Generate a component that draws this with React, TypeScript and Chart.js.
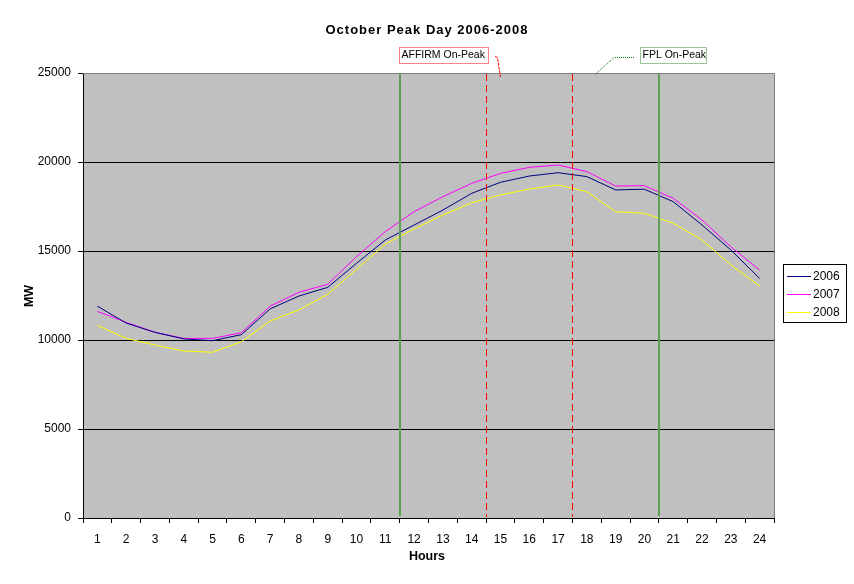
import { useEffect, useRef } from 'react';
import { Chart, registerables } from 'chart.js';

Chart.register(...registerables);

const hours = ['1','2','3','4','5','6','7','8','9','10','11','12','13','14','15','16','17','18','19','20','21','22','23','24'];
const mw2006 = [11900,10950,10430,10060,9960,10300,11750,12470,12960,14310,15620,16460,17300,18240,18860,19210,19400,19180,18430,18470,17770,16460,15060,13460];
const mw2007 = [11610,10990,10430,10090,10090,10410,11900,12680,13130,14680,16090,17210,18050,18800,19360,19700,19830,19460,18650,18670,17960,16740,15240,13930];
const mw2008 = [10820,10090,9720,9380,9310,9900,11070,11690,12570,13970,15390,16240,17020,17710,18150,18480,18710,18330,17210,17120,16560,15620,14210,13030];
const seriesNames = ['2006', '2007', '2008'];
const seriesColors = ['#000080', '#FF00FF', '#FFFF00'];
// on-peak windows: boundaries after these hour numbers
const fplBounds = [11, 20];
const affirmBounds = [14, 17];
const yTicks = [0, 5000, 10000, 15000, 20000, 25000];

const FONT = '"Liberation Sans", Arial, sans-serif';

function boundaryX(chart: any, afterHour: number) {
  const xs = chart.scales.x;
  return (xs.getPixelForValue(afterHour - 1) + xs.getPixelForValue(afterHour)) / 2;
}

const decor = {
  id: 'decor',
  beforeDraw(chart: any) {
    const { ctx, chartArea: a } = chart;
    ctx.save();
    ctx.fillStyle = '#FFFFFF';
    ctx.fillRect(0, 0, chart.width, chart.height);
    ctx.fillStyle = '#C0C0C0';
    ctx.fillRect(a.left, a.top, a.right - a.left, a.bottom - a.top);
    ctx.restore();
  },
  afterDatasetsDraw(chart: any) {
    const { ctx, chartArea: a } = chart;
    ctx.save();
    ctx.strokeStyle = '#5E9E55';
    ctx.lineWidth = 2;
    fplBounds.forEach((h) => {
      const x = Math.round(boundaryX(chart, h));
      ctx.beginPath();
      ctx.moveTo(x, a.top + 1);
      ctx.lineTo(x, a.bottom - 2);
      ctx.stroke();
    });
    ctx.strokeStyle = '#FF0000';
    ctx.lineWidth = 1;
    ctx.setLineDash([7, 4]);
    affirmBounds.forEach((h) => {
      const x = Math.round(boundaryX(chart, h)) + 0.5;
      ctx.beginPath();
      ctx.moveTo(x, a.top + 1);
      ctx.lineTo(x, a.bottom - 1);
      ctx.stroke();
    });
    ctx.restore();
  },
  afterDraw(chart: any) {
    const { ctx, chartArea: a } = chart;
    ctx.save();
    ctx.strokeStyle = '#808080';
    ctx.lineWidth = 1;
    ctx.beginPath();
    ctx.moveTo(a.left, a.top + 0.5);
    ctx.lineTo(a.right + 0.5, a.top + 0.5);
    ctx.lineTo(a.right + 0.5, a.bottom);
    ctx.stroke();

    ctx.fillStyle = '#000';
    ctx.font = `bold 13px ${FONT}`;
    (ctx as any).letterSpacing = '1px';
    ctx.textAlign = 'center';
    ctx.textBaseline = 'middle';
    ctx.fillText('October Peak Day 2006-2008', 427, 30);
    (ctx as any).letterSpacing = '0px';

    ctx.font = `bold 12.5px ${FONT}`;
    ctx.fillText('Hours', 427, 557);
    ctx.save();
    ctx.translate(30, 296);
    ctx.rotate(-Math.PI / 2);
    ctx.fillText('MW', 0, 0);
    ctx.restore();

    ctx.setLineDash([1, 1]);
    ctx.lineWidth = 1;
    ctx.fillStyle = '#FFFFFF';
    ctx.fillRect(399.5, 47.5, 89, 16);
    ctx.strokeStyle = '#FF0000';
    ctx.strokeRect(399.5, 47.5, 89, 16);
    ctx.fillRect(640.5, 47.5, 66, 16);
    ctx.strokeStyle = '#2E8B2E';
    ctx.strokeRect(640.5, 47.5, 66, 16);
    ctx.fillStyle = '#000';
    ctx.font = `10.5px ${FONT}`;
    ctx.textAlign = 'left';
    ctx.fillText('AFFIRM On-Peak', 401.5, 55.5);
    ctx.fillText('FPL On-Peak', 642.5, 55.5);

    ctx.setLineDash([3, 1]);
    ctx.strokeStyle = '#FF0000';
    ctx.beginPath();
    ctx.moveTo(495, 56.5);
    ctx.lineTo(497.5, 57.5);
    ctx.lineTo(500.5, 77);
    ctx.stroke();
    ctx.setLineDash([1, 1]);
    ctx.strokeStyle = '#008000';
    ctx.beginPath();
    ctx.moveTo(634, 57.5);
    ctx.lineTo(614, 57.5);
    ctx.lineTo(595, 74.5);
    ctx.stroke();
    ctx.setLineDash([]);

    ctx.fillStyle = '#FFFFFF';
    ctx.fillRect(783.5, 264.5, 63, 58);
    ctx.strokeStyle = '#000';
    ctx.lineWidth = 1;
    ctx.strokeRect(783.5, 264.5, 63, 58);
    ctx.font = `12px ${FONT}`;
    ctx.textAlign = 'left';
    ctx.textBaseline = 'middle';
    seriesNames.forEach((n, i) => {
      const y = 276.5 + i * 18;
      ctx.strokeStyle = seriesColors[i];
      ctx.beginPath();
      ctx.moveTo(787, y);
      ctx.lineTo(811, y);
      ctx.stroke();
      ctx.fillStyle = '#000';
      ctx.fillText(n, 813, y + 0.5);
    });
    ctx.restore();
  },
};

export default function App() {
  const ref = useRef<HTMLCanvasElement>(null);
  useEffect(() => {
    document.body.style.margin = '0';
    const chart = new Chart(ref.current!, {
      type: 'line',
      data: {
        labels: hours,
        datasets: [mw2006, mw2007, mw2008].map((d, i) => ({
          label: seriesNames[i],
          data: d,
          borderColor: seriesColors[i],
          backgroundColor: seriesColors[i],
          borderWidth: 1,
          pointRadius: 0,
          tension: 0,
          fill: false,
        })),
      },
      options: {
        responsive: false,
        animation: false,
        devicePixelRatio: 1,
        layout: { padding: { left: 0, right: 80, top: 73, bottom: 0 } },
        plugins: { legend: { display: false }, title: { display: false }, tooltip: { enabled: false } },
        scales: {
          x: {
            offset: true,
            afterFit: (s: any) => { s.height = 66; },
            grid: { offset: true, drawOnChartArea: false, color: '#000', tickColor: '#000', tickLength: 5 },
            border: { color: '#000', width: 1 },
            ticks: { color: '#000', font: { family: FONT, size: 12 }, padding: 9, maxRotation: 0, autoSkip: false },
          },
          y: {
            min: 0,
            max: 25000,
            afterFit: (s: any) => { s.width = 83; },
            afterBuildTicks: (s: any) => { s.ticks = yTicks.map((v) => ({ value: v })); },
            grid: {
              color: (c: any) => (c.tick && c.tick.value === 25000 ? '#808080' : '#000000'),
              tickColor: '#000',
              tickLength: 5,
            },
            border: { color: '#000', width: 1 },
            ticks: { color: '#000', font: { family: FONT, size: 12 }, padding: 7, callback: (v: any) => String(v) },
          },
        },
      },
      plugins: [decor],
    });
    return () => chart.destroy();
  }, []);
  return (
    <div style={{ position: 'absolute', left: 0, top: 0, width: 854, height: 584 }}>
      <canvas ref={ref} width={854} height={584} />
    </div>
  );
}
